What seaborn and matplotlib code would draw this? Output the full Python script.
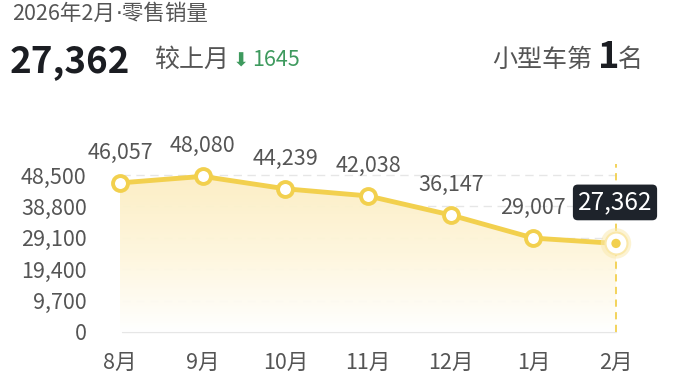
import numpy as np
import pandas as pd
import matplotlib
matplotlib.use("Agg")
import matplotlib.pyplot as plt
import seaborn as sns
from matplotlib.colors import LinearSegmentedColormap

months = ["8月", "9月", "10月", "11月", "12月", "1月", "2月"]
sales = [46057, 48080, 44239, 42038, 36147, 29007, 27362]
yticks = [0, 9700, 19400, 29100, 38800, 48500]
title_a = "2026年2月"
title_b = "·零售销量"
headline = "27,362"
change_label = "较上月"
change_value = "1645"
rank_prefix = "小型车第"
rank_num = "1"
rank_suffix = "名"

sns.set_theme(style="white")
plt.rcParams["font.family"] = ["Noto Sans CJK SC", "DejaVu Sans"]

W, H = 678, 384
fig = plt.figure(figsize=(W / 100, H / 100), dpi=100)
fig.patch.set_facecolor("white")

left, right = 120 / W, 616 / W
bottom, top = (H - 332) / H, (H - 175) / H
ax = fig.add_axes([left, bottom, right - left, top - bottom])
ax.set_facecolor("none")

df = pd.DataFrame({"x": np.arange(len(months)), "y": sales})
line_c = "#F2D04E"
gray = "#555555"

ax.set_xlim(0, len(months) - 1)
ax.set_ylim(0, 48500)

for yv in yticks:
    ax.plot([0.03, len(months) - 1], [yv, yv], color="#E6E6E6", lw=1,
            ls=(0, (6, 4)) if yv > 0 else "-", zorder=0, clip_on=False)

grad = LinearSegmentedColormap.from_list("g", ["#FFFFFF", "#FEF6DC", "#FCEEC2"])
poly = ax.fill_between(df["x"], df["y"], 0, color="none", lw=0)
img = ax.imshow(np.linspace(0, 1, 256).reshape(-1, 1), cmap=grad, aspect="auto",
                extent=[0, len(months) - 1, 0, 48500], origin="lower", zorder=1,
                alpha=0.95)
img.set_clip_path(poly.get_paths()[0], transform=ax.transData)

ax.plot([len(months) - 1] * 2, [0, 52000], color=line_c, lw=1.3, ls=(0, (4, 3)),
        zorder=2, clip_on=False)

sns.lineplot(data=df, x="x", y="y", ax=ax, color=line_c, lw=3.5, zorder=3,
             legend=False)
ax.lines[-1].set_clip_on(False)
ax.scatter(df["x"][:-1], df["y"][:-1], s=115, facecolor="white",
           edgecolor=line_c, linewidth=2.8, zorder=4, clip_on=False)
lx, ly = df["x"].iloc[-1], df["y"].iloc[-1]
ax.scatter([lx], [ly], s=480, facecolor="#FAEAB0", edgecolor="none", alpha=0.55,
           zorder=4, clip_on=False)
ax.scatter([lx], [ly], s=250, facecolor="white", edgecolor="#FAE8AA",
           linewidth=1.5, zorder=5, clip_on=False)
ax.scatter([lx], [ly], s=45, facecolor=line_c, edgecolor="none", zorder=6,
           clip_on=False)

for xv, yv in zip(df["x"][:-1], df["y"][:-1]):
    ax.annotate(f"{yv:,}", (xv, yv), xytext=(0, 30), textcoords="offset pixels",
                ha="center", va="center", fontsize=15.5, color=gray, zorder=7,
                annotation_clip=False)

ax.annotate(f"{ly:,}", (lx, ly), xytext=(-1, 41), textcoords="offset pixels",
            ha="center", va="center", fontsize=17.5, color="white", zorder=8,
            annotation_clip=False,
            bbox=dict(boxstyle="round,pad=0.2,rounding_size=0.2", fc="#1E232B",
                      ec="none"))

ax.set_xticks(df["x"])
ax.set_xticklabels(months, fontsize=15.5, color=gray)
ax.set_yticks(yticks)
ax.set_yticklabels([f"{v:,}" for v in yticks], fontsize=15.5, color=gray)
ax.tick_params(axis="y", length=0, pad=24)
ax.tick_params(axis="x", length=0, pad=14)
ax.set_xlabel("")
ax.set_ylabel("")
for s in ax.spines.values():
    s.set_visible(False)

# header texts
ta = fig.text(12 / W, 1 - 14 / H, title_a, fontsize=15.5, color="#555555",
              ha="left", va="center")
fig.canvas.draw()
bb = ta.get_window_extent()
fig.text((bb.x1 + 1) / W, 1 - 14 / H, title_b, fontsize=15.5, color="#555555",
         ha="left", va="center", family=["DejaVu Sans", "Noto Sans CJK SC"])
fig.text(10 / W, 1 - 62 / H, headline, fontsize=26.5, fontweight="bold",
         color="#1B1D22", ha="left", va="center")
fig.text(154 / W, 1 - 60 / H, change_label, fontsize=18, color="#555555",
         ha="left", va="center")
fig.text(233 / W, 1 - 61 / H, "⬇", fontsize=14, color="#3E9A5E",
         ha="left", va="center", family=["DejaVu Sans"])
fig.text(252 / W, 1 - 60 / H, change_value, fontsize=15.5, color="#3E9A5E",
         ha="left", va="center")
fig.text(592 / W, 1 - 60 / H, rank_prefix, fontsize=18, color="#555555",
         ha="right", va="center")
fig.text(598 / W, 1 - 58 / H, rank_num, fontsize=26, fontweight="bold",
         color="#1B1D22", ha="left", va="center")
fig.text(618 / W, 1 - 60 / H, rank_suffix, fontsize=18, color="#555555",
         ha="left", va="center")

fig.savefig("out.png", dpi=100, facecolor="white")
